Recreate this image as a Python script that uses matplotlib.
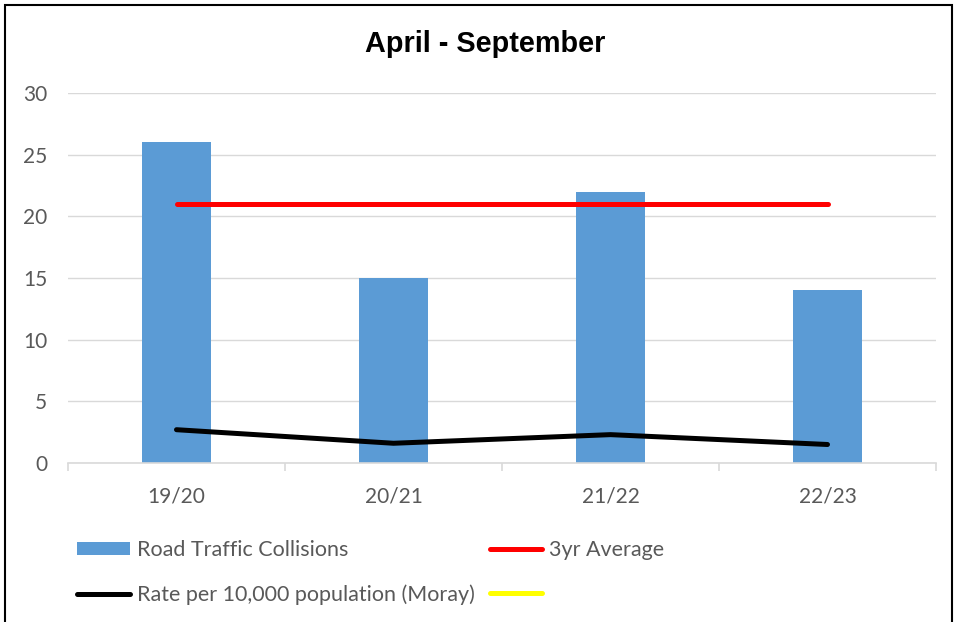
import matplotlib
matplotlib.use("Agg")
import matplotlib.pyplot as plt
from matplotlib.patches import Rectangle, Patch
from matplotlib.lines import Line2D

categories = ["19/20", "20/21", "21/22", "22/23"]
collisions = [26, 15, 22, 14]
avg_3yr = [21, 21, 21, 21]
rate_per_10k = [2.7, 1.6, 2.3, 1.5]
yticks = [0, 5, 10, 15, 20, 25, 30]

W, H = 957, 622
fig = plt.figure(figsize=(W / 100, H / 100), dpi=100)
fig.patch.set_facecolor("white")
# outer frame
fig.add_artist(Rectangle((5 / W, -0.05), (952 - 5) / W, 1.05 - 5 / H, transform=fig.transFigure,
                         fill=False, edgecolor="black", linewidth=1.5))

ax = fig.add_axes([68 / W, 1 - 463 / H, (936 - 68) / W, (463 - 93) / H])
x = list(range(len(categories)))
bar_color = "#5B9BD5"
ax.bar(x, collisions, width=0.315, color=bar_color, zorder=2)
ax.plot(x, avg_3yr, color="#FF0000", linewidth=3.6, solid_capstyle="round", zorder=3)
ax.plot(x, rate_per_10k, color="black", linewidth=3.6, solid_capstyle="round", zorder=3)

ax.set_xlim(-0.5, 3.5)
ax.set_ylim(0, 30)
ax.set_yticks(yticks)
ax.grid(axis="y", color="#D9D9D9", linewidth=1, zorder=0)
ax.set_axisbelow(True)
for s in ["top", "right", "left"]:
    ax.spines[s].set_visible(False)
ax.spines["bottom"].set_color("#D9D9D9")
ax.spines["bottom"].set_linewidth(1.2)
ax.set_xticks(x)
ax.set_xticklabels(categories)
ax.set_xticks([-0.5, 0.5, 1.5, 2.5, 3.5], minor=True)
ax.tick_params(axis="x", which="major", length=0, pad=17, labelsize=15, labelcolor="#595959")
ax.tick_params(axis="x", which="minor", length=6, color="#D9D9D9", width=1.2)
ax.tick_params(axis="y", length=0, pad=15, labelsize=15, labelcolor="#595959")
for lab in ax.get_xticklabels() + ax.get_yticklabels():
    lab.set_family(["Lato", "DejaVu Sans"])

fig.text(485 / W, 1 - 44 / H, "April - September", ha="center", va="center",
         fontsize=20.8, fontweight="bold", family=["Liberation Sans", "DejaVu Sans"])

handles = [
    Patch(facecolor=bar_color, edgecolor="none"),
    Line2D([], [], color="black", linewidth=3.6, solid_capstyle="round"),
    Line2D([], [], color="#FF0000", linewidth=3.6, solid_capstyle="round"),
    Line2D([], [], color="#FFFF00", linewidth=3.6, solid_capstyle="round"),
]
labels = ["Road Traffic Collisions", "Rate per 10,000 population (Moray)", "3yr Average", ""]
leg = fig.legend(handles, labels, ncol=2, loc="upper left",
                 bbox_to_anchor=(58 / W, 1 - 521 / H), frameon=False,
                 prop={"family": ["Lato", "DejaVu Sans"], "size": 15.5},
                 handlelength=2.45, handleheight=0.55, handletextpad=0.3,
                 columnspacing=0.7, labelspacing=1.1, labelcolor="#595959")

fig.savefig("out.png", dpi=100, facecolor="white")
